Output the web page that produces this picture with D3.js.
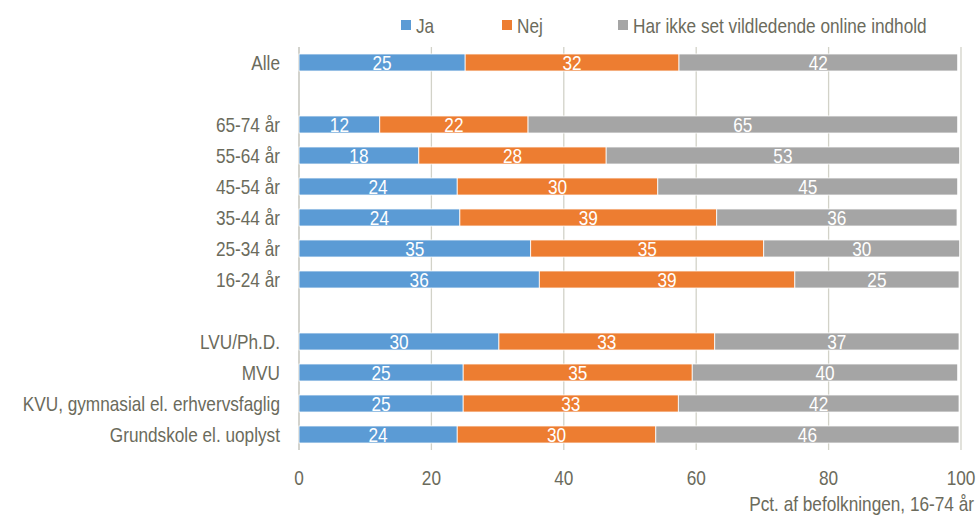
<!DOCTYPE html>
<html>
<head>
<meta charset="utf-8">
<script src="https://cdn.jsdelivr.net/npm/d3@7"></script>
<style>
	body { margin: 0; background: #fff; }
	svg text { font-family: "Liberation Sans Narrow", "Liberation Sans", Arial, sans-serif; }
</style>
</head>
<body>
<div id="chart"></div>
<script>

// Rows (blank strings are spacer rows):
var categories = ['Alle', '', '65-74 år', '55-64 år', '45-54 år', '35-44 år', '25-34 år', '16-24 år', ' ',
	'LVU/Ph.D.', 'MVU', 'KVU, gymnasial el. erhvervsfaglig ', 'Grundskole el. uoplyst'];

var ja  = [25.1, null, 12.2, 18.1, 23.9, 24.3, 35.0, 36.3, null, 30.2, 24.8, 24.8, 23.9];
var nej = [32.3, null, 22.4, 28.3, 30.3, 38.8, 35.2, 38.6, null, 32.6, 34.6, 32.5, 30.0];
var har = [42.1, null, 64.9, 53.4, 45.3, 36.3, 29.6, 24.8, null, 36.9, 40.1, 42.4, 45.8];

var seriesNames = ['Ja', 'Nej', 'Har ikke set vildledende online indhold'];
var colors = ['#5B9BD5', '#ED7D31', '#A5A5A5'];
var xTicks = [0, 20, 40, 60, 80, 100];

// Canvas:
var width = 977,
	height = 515,
	margin = [47, 16, 65, 299];   // top, right, bottom, left

var svg = d3.select('#chart').append('svg')
	.attr('width', width)
	.attr('height', height);

var x = d3.scaleLinear()
	.domain([0, 100])
	.range([margin[3], 961]);

var y = d3.scaleBand()
	.domain(categories)
	.range([margin[0], margin[0] + 31 * categories.length])
	.paddingInner(0.45)
	.paddingOuter(0.225);

var textColor = '#6b6b5c';

// No narrow font installed, so squeeze the text horizontally:
var squeeze = 0.82;
function place( px, py, s ) {
	return 'translate(' + px + ',' + py + ') scale(' + (s || squeeze) + ',1)';
}

// Gridlines:
svg.append('g')
	.selectAll('line')
	.data(xTicks)
	.enter().append('line')
		.attr('x1', function(d) { return x(d); })
		.attr('x2', function(d) { return x(d); })
		.attr('y1', y.range()[0])
		.attr('y2', y.range()[1])
		.attr('stroke', function(d) { return d === 0 ? '#bcbcb2' : '#d2d2c8'; })
		.attr('stroke-width', 1.3);

// Stack the series:
var rows = categories.map(function(c, i) {
	return { cat: c, Ja: ja[i], Nej: nej[i], Har: har[i] };
}).filter(function(d) { return d.Ja !== null; });

var stack = d3.stack().keys(['Ja', 'Nej', 'Har'])(rows);

var layers = svg.append('g')
	.selectAll('g')
	.data(stack)
	.enter().append('g')
		.attr('fill', function(d, i) { return colors[i]; });

layers.selectAll('rect')
	.data(function(d) { return d; })
	.enter().append('rect')
		.attr('x', function(d) { return x(d[0]); })
		.attr('width', function(d) { return x(d[1]) - x(d[0]); })
		.attr('y', function(d) { return y(d.data.cat); })
		.attr('height', y.bandwidth())
		.attr('stroke', '#ffffff')
		.attr('stroke-width', 0.8);

// Value labels:
layers.selectAll('text')
	.data(function(d) { return d; })
	.enter().append('text')
		.attr('transform', function(d) {
			return place( (x(d[0]) + x(d[1])) / 2, y(d.data.cat) + y.bandwidth() / 2 );
		})
		.attr('dy', '0.36em')
		.attr('text-anchor', 'middle')
		.attr('fill', '#ffffff')
		.style('font-size', '21px')
		.text(function(d) { return Math.round(d[1] - d[0]); });

// Category labels:
svg.append('g')
	.selectAll('text')
	.data(categories)
	.enter().append('text')
		.attr('transform', function(d) { return place( 280, y(d) + y.bandwidth() / 2 ); })
		.attr('dy', '0.36em')
		.attr('text-anchor', 'end')
		.attr('fill', textColor)
		.style('font-size', '21px')
		.text(function(d) { return d.trim(); });

// X axis tick labels:
svg.append('g')
	.selectAll('text')
	.data(xTicks)
	.enter().append('text')
		.attr('transform', function(d) { return place( x(d), 477 ); })
		.attr('dy', '0.36em')
		.attr('text-anchor', 'middle')
		.attr('fill', textColor)
		.style('font-size', '21px')
		.text(function(d) { return d; });

// Axis title:
svg.append('text')
	.attr('transform', place( 974, 511 ))
	.attr('text-anchor', 'end')
	.attr('fill', textColor)
	.style('font-size', '21px')
	.text('Pct. af befolkningen, 16-74 år');

// Legend:
var legendX = [401, 502, 618];
var legend = svg.append('g')
	.selectAll('g')
	.data(seriesNames)
	.enter().append('g')
		.attr('transform', function(d, i) { return 'translate(' + legendX[i] + ',25)'; });

legend.append('rect')
	.attr('x', 0)
	.attr('y', -5)
	.attr('width', 10)
	.attr('height', 10)
	.attr('fill', function(d, i) { return colors[i]; });

legend.append('text')
	.attr('transform', place( 15, 0 ))
	.attr('dy', '0.36em')
	.attr('fill', textColor)
	.style('font-size', '21px')
	.text(function(d) { return d; });

</script>
</body>
</html>
